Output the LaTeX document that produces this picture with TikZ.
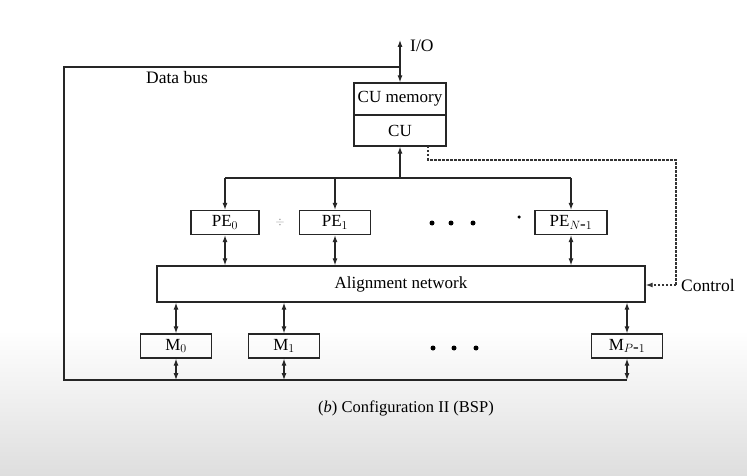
\documentclass[tikz,border=0pt]{standalone}
\usepackage{fontspec}
\setmainfont{Liberation Serif}
\usetikzlibrary{arrows.meta,calc}
\begin{document}
\begin{tikzpicture}[x=1pt,y=-1pt,
  box/.style={draw=black!85,line width=1.3pt,rectangle,minimum height=24pt,inner sep=0pt,font=\fontsize{17}{17}\selectfont},
  wire/.style={draw=black!85,line width=1.1pt},
  tip/.style={-{Latex[length=7pt,width=5pt]}},
  bitip/.style={{Latex[length=7pt,width=5pt]}-{Latex[length=7pt,width=5pt]}},
  ctrl/.style={draw=black!80,line width=1.1pt,dash pattern=on 2.5pt off 1.5pt},
  lbl/.style={font=\fontsize{17.5}{17.5}\selectfont,inner sep=0pt},
  dotc/.style={fill=black,circle,inner sep=0pt,minimum size=5pt}]
\fill[white] (0,0) rectangle (747,476);
\shade[top color=white,bottom color=black!13] (0,330) rectangle (747,476);
\useasboundingbox (0,0) rectangle (747,476);

% CU
\node[box,minimum width=92pt,minimum height=32pt] (cumem) at (400,99) {CU memory};
\node[box,minimum width=92pt,minimum height=31pt] (cu) at (400,130.5) {CU};
\coordinate (io) at (400,40);
\node[lbl,anchor=west] (iol) at (410,46) {I/O};

% PEs
\node[box,minimum width=68pt] (pe0) at (225,222.5) {PE$_0$};
\node[box,minimum width=71pt] (pe1) at (335,222.5) {PE$_1$};
\node[box,minimum width=72pt] (pen) at (571,222.5) {PE$_{N\mbox{-}1}$};

% Alignment network
\node[box,minimum width=488pt,minimum height=36pt] (an) at (401,284) {Alignment network};

% Memories
\node[box,minimum width=71pt] (m0) at (176,346) {M$_0$};
\node[box,minimum width=71pt] (m1) at (284,346) {M$_1$};
\node[box,minimum width=71pt] (mp) at (627,346) {M$_{P\mbox{-}1}$};

% dots
\node[dotc] (d1) at (432,223) {};
\node[dotc] (d2) at (451,223) {};
\node[dotc] (d3) at (473,223) {};
\node[dotc,minimum size=3.5pt] (d4) at (519,217) {};
\node[dotc] (e1) at (433,348) {};
\node[dotc] (e2) at (454,348) {};
\node[dotc] (e3) at (476,348) {};
\node[text=black!40,inner sep=0pt,font=\large] (dv) at (280,222) {$\div$};

% I/O and data bus
\draw[wire,bitip] (cumem.north) -- (io);
\coordinate (bustop) at (400,67);
\coordinate (bustl) at (64,67);
\coordinate (busbl) at (64,380);
\coordinate (busbr) at (627,380);
\draw[wire] (bustop) -- (bustl) -- (busbl) -- (busbr);
\node[lbl,anchor=west] (dbl) at (146,78) {Data bus};

% CU to PEs
\coordinate (br) at (400,178);
\draw[wire,tip] (br) -- (cu.south);
\draw[wire] (pe0.north |- br) -- (pen.north |- br);
\draw[wire,tip] (pe0.north |- br) -- (pe0.north);
\draw[wire,tip] (pe1.north |- br) -- (pe1.north);
\draw[wire,tip] (pen.north |- br) -- (pen.north);

% PEs to alignment network
\draw[wire,bitip] (pe0.south) -- (pe0.south |- an.north);
\draw[wire,bitip] (pe1.south) -- (pe1.south |- an.north);
\draw[wire,bitip] (pen.south) -- (pen.south |- an.north);

% Alignment to memories
\draw[wire,bitip] (m0.north |- an.south) -- (m0.north);
\draw[wire,bitip] (m1.north |- an.south) -- (m1.north);
\draw[wire,bitip] (mp.north |- an.south) -- (mp.north);

% memories to bus
\draw[wire,bitip] (m0.south) -- (m0.south |- busbl);
\draw[wire,bitip] (m1.south) -- (m1.south |- busbl);
\draw[wire,bitip] (mp.south) -- (mp.south |- busbl);

% Control
\coordinate (c1) at (428,146);
\coordinate (c2) at (428,160);
\coordinate (c3) at (676,160);
\coordinate (c4) at (676,285);
\draw[ctrl] (c1) -- (c2) -- (c3) -- (c4);
\draw[ctrl,tip] (c4) -- (an.east |- c4);
\node[lbl,anchor=west] (ctl) at (681,286) {Control};

% caption
\node[inner sep=0pt,font=\fontsize{16.5}{16.5}\selectfont] (cap) at (406,408) {(\textit{b}) Configuration II (BSP)};
\end{tikzpicture}
\end{document}
